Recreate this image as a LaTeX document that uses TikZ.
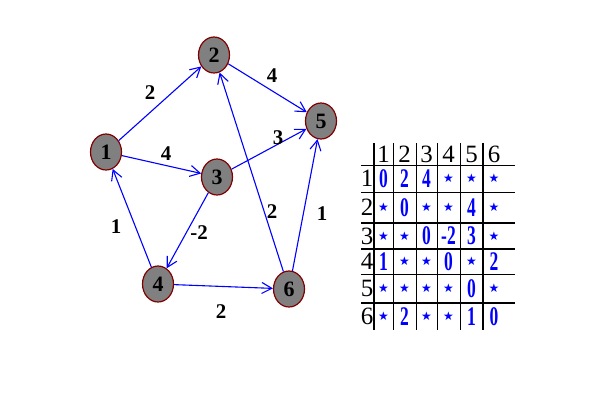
\documentclass[tikz,border=0pt]{standalone}
\usepackage{fontspec}
\setmainfont{Liberation Serif}
\newfontfamily\narrowserif[FakeStretch=0.65]{Liberation Serif}
\newfontfamily\starfont{DejaVu Sans}
\usetikzlibrary{shapes.geometric,arrows.meta}
\definecolor{nodegray}{RGB}{128,128,128}
\definecolor{rimred}{RGB}{128,0,0}
\definecolor{edgeblue}{RGB}{0,0,255}
\begin{document}
\begin{tikzpicture}[x=1bp,y=-1bp,
  vertex/.style={ellipse, fill=nodegray, draw=rimred, line width=1.2bp, minimum width=31bp, minimum height=36bp, inner sep=0pt, font=\fontsize{22}{22}\selectfont\bfseries},
  edge/.style={draw=edgeblue, line width=1.1bp, -{Straight Barb[length=10bp,width=11bp]}},
  wlabel/.style={font=\fontsize{21}{21}\selectfont\bfseries, inner sep=0pt},
  head/.style={font=\fontsize{25}{25}\selectfont, inner sep=0pt},
  val/.style={text=edgeblue, font=\fontsize{27}{27}\narrowserif\bfseries, inner sep=0pt},
  inf/.style={text=edgeblue, font=\fontsize{12}{12}\starfont, inner sep=0pt},
  gridthin/.style={line width=1bp},
  gridthick/.style={line width=2bp}
]
\useasboundingbox (0,0) rectangle (599,402);
\fill[white] (0,0) rectangle (599,402);

% vertices
\node[vertex] (n1) at (106,152) {1};
\node[vertex] (n2) at (214,55) {2};
\node[vertex] (n3) at (217,177) {3};
\node[vertex] (n4) at (158,284) {4};
\node[vertex] (n5) at (321,121) {5};
\node[vertex] (n6) at (289,289) {6};

% edges
\draw[edge] (n1) -- (n2);
\draw[edge] (n2) -- (n5);
\draw[edge] (n1) -- (n3);
\draw[edge] (n3) -- (n5);
\draw[edge] (n6) -- (n5);
\draw[edge] (n6) -- (n2);
\draw[edge] (n3) -- (n4);
\draw[edge] (n4) -- (n1);
\draw[edge] (n4) -- (n6);

% edge labels
\node[wlabel] (l12) at (150,93) {2};
\node[wlabel] (l25) at (272,76) {4};
\node[wlabel] (l13) at (166,154) {4};
\node[wlabel] (l35) at (278,138) {3};
\node[wlabel] (l62) at (272,212) {2};
\node[wlabel] (l65) at (322,214) {1};
\node[wlabel] (l41) at (116,227) {1};
\node[wlabel] (l34) at (199,233) {-2};
\node[wlabel] (l46) at (221,312) {2};

% table grid
\draw[gridthick] (374,143) -- (374,330);
\draw[gridthin] (393,143) -- (393,330);
\draw[gridthin] (416,143) -- (416,330);
\draw[gridthin] (437,143) -- (437,330);
\draw[gridthin] (460,143) -- (460,330);
\draw[gridthick] (483,143) -- (483,330);
\draw[gridthin] (361,165) -- (515,165);
\draw[gridthin] (361,192) -- (515,192);
\draw[gridthick] (361,223) -- (515,223);
\draw[gridthick] (361,249) -- (515,249);
\draw[gridthin] (361,274) -- (515,274);
\draw[gridthick] (361,303) -- (515,303);

% header
\node[head] (h1) at (383.5,154) {1};
\node[head] (h2) at (404.5,154) {2};
\node[head] (h3) at (426.5,154) {3};
\node[head] (h4) at (448.5,154) {4};
\node[head] (h5) at (471.5,154) {5};
\node[head] (h6) at (494,154) {6};
\node[head] (r1) at (367,178.5) {1};
\node[head] (r2) at (367,207.5) {2};
\node[head] (r3) at (367,236) {3};
\node[head] (r4) at (367,261.5) {4};
\node[head] (r5) at (367,288.5) {5};
\node[head] (r6) at (367,316.5) {6};

% row 1
\node[val] (c11) at (383.5,178.5) {0};
\node[val] (c12) at (404.5,178.5) {2};
\node[val] (c13) at (426.5,178.5) {4};
\node[inf] (c14) at (448.5,178.5) {★};
\node[inf] (c15) at (471.5,178.5) {★};
\node[inf] (c16) at (494,178.5) {★};
% row 2
\node[inf] (c21) at (383.5,207.5) {★};
\node[val] (c22) at (404.5,207.5) {0};
\node[inf] (c23) at (426.5,207.5) {★};
\node[inf] (c24) at (448.5,207.5) {★};
\node[val] (c25) at (471.5,207.5) {4};
\node[inf] (c26) at (494,207.5) {★};
% row 3
\node[inf] (c31) at (383.5,236) {★};
\node[inf] (c32) at (404.5,236) {★};
\node[val] (c33) at (426.5,236) {0};
\node[val] (c34) at (448.5,236) {-2};
\node[val] (c35) at (471.5,236) {3};
\node[inf] (c36) at (494,236) {★};
% row 4
\node[val] (c41) at (383.5,261.5) {1};
\node[inf] (c42) at (404.5,261.5) {★};
\node[inf] (c43) at (426.5,261.5) {★};
\node[val] (c44) at (448.5,261.5) {0};
\node[inf] (c45) at (471.5,261.5) {★};
\node[val] (c46) at (494,261.5) {2};
% row 5
\node[inf] (c51) at (383.5,288.5) {★};
\node[inf] (c52) at (404.5,288.5) {★};
\node[inf] (c53) at (426.5,288.5) {★};
\node[inf] (c54) at (448.5,288.5) {★};
\node[val] (c55) at (471.5,288.5) {0};
\node[inf] (c56) at (494,288.5) {★};
% row 6
\node[inf] (c61) at (383.5,316.5) {★};
\node[val] (c62) at (404.5,316.5) {2};
\node[inf] (c63) at (426.5,316.5) {★};
\node[inf] (c64) at (448.5,316.5) {★};
\node[val] (c65) at (471.5,316.5) {1};
\node[val] (c66) at (494,316.5) {0};
\end{tikzpicture}
\end{document}
